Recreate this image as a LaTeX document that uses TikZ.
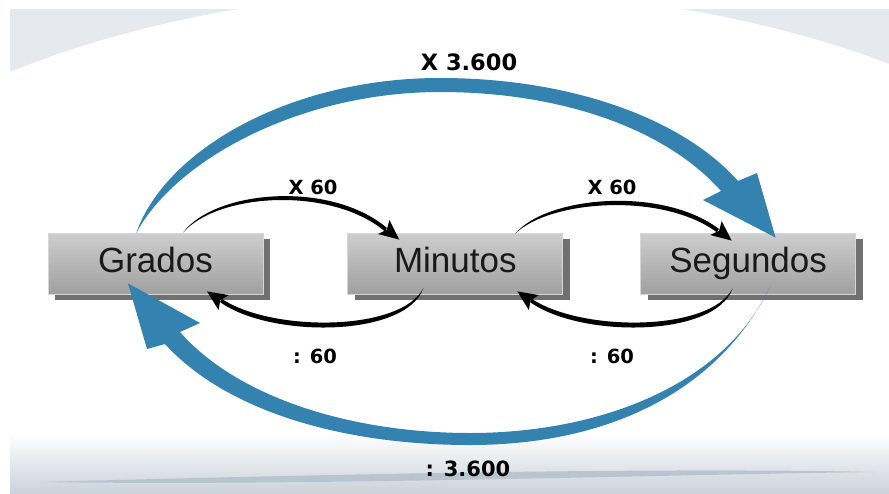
\documentclass[tikz,border=0pt]{standalone}
\usepackage{fontspec}
\setmainfont{Liberation Sans}
\newfontfamily\labelfam{DejaVu Sans}
\usetikzlibrary{positioning,shadows}

\definecolor{bggray}{RGB}{230,233,238}
\definecolor{bandgray}{RGB}{203,210,218}
\definecolor{streak}{RGB}{180,192,206}
\definecolor{boxtop}{RGB}{206,206,206}
\definecolor{boxbot}{RGB}{160,160,160}
\definecolor{boxline}{RGB}{214,214,214}
\definecolor{boxshadow}{RGB}{112,112,112}
\definecolor{arrowblue}{RGB}{52,130,176}

% stealth-like head for the small black arcs
\newcommand{\arcTip}[2]{\fill[black arrow,shift={(#1)},rotate=#2] (0,0) -- (-20,9) -- (-16,0) -- (-20,-9) -- cycle;}

\begin{document}
\begin{tikzpicture}[x=1pt,y=-1pt,
    unit/.style={rectangle,minimum width=215pt,minimum height=61pt,inner sep=0pt,
      top color=boxtop,bottom color=boxbot,draw=boxline,line width=0.8pt,
      text=black!90,font=\fontsize{35}{38}\selectfont,text height=25pt,text depth=8pt,
      drop shadow={shadow xshift=7pt,shadow yshift=-6pt,fill=boxshadow,opacity=1}},
    factor/.style={font=\labelfam\bfseries\fontsize{19.5}{21}\selectfont},
    bigfactor/.style={font=\labelfam\bfseries\fontsize{22.5}{24}\selectfont},
    blue arrow/.style={fill=arrowblue},
    black arrow/.style={fill=black}]
  \useasboundingbox (0,0) rectangle (889,493);

  % background
  \begin{scope}
    \clip (10,9) rectangle (889,493);
    \fill[bggray] (10,9) rectangle (889,140);
    \fill[white] (460,400) ellipse [x radius=753, y radius=409];
    \shade[top color=white,bottom color=bandgray] (10,433) rectangle (889,493);
    \fill[streak,opacity=0.85] (40,482) .. controls (300,475) and (650,467) .. (875,472)
      .. controls (650,475) and (300,486) .. (40,482) -- cycle;
  \end{scope}

  % units
  \node[unit] (grados) at (155.5,263.5) {Grados};
  \node[unit,right=84pt of grados] (minutos) {Minutos};
  \node[unit,right=77pt of minutos] (segundos) {Segundos};

  \coordinate (g-top)   at ([xshift=-19.5pt,yshift=-1pt]grados.north);
  \coordinate (g-right) at ([xshift=27.5pt]grados.north);
  \coordinate (g-bot)   at ([xshift=-27.5pt,yshift=11pt]grados.south);
  \coordinate (g-low)   at ([xshift=51.5pt,yshift=3pt]grados.south);
  \coordinate (m-left)  at ([xshift=-56pt,yshift=-7pt]minutos.north);
  \coordinate (m-right) at ([xshift=60pt,yshift=-1pt]minutos.north);
  \coordinate (m-low)   at ([xshift=-32pt,yshift=6pt]minutos.south);
  \coordinate (m-end)   at ([xshift=62pt,yshift=3pt]minutos.south);
  \coordinate (s-left)  at ([xshift=-16.5pt,yshift=-8pt]segundos.north);
  \coordinate (s-top)   at ([xshift=27.5pt,yshift=-5pt]segundos.north);
  \coordinate (s-low)   at ([xshift=-15.5pt,yshift=6pt]segundos.south);
  \coordinate (s-bot)   at ([xshift=22.5pt,yshift=9pt]segundos.south);

  % x 60 / : 60
  \fill[black arrow] (g-right) .. controls (215,190) and (330,180) .. (387,228)
    -- (384.5,231) .. controls (330,186) and (218,193) .. (g-right) -- cycle;
  \arcTip{m-left}{-39}
  \fill[black arrow] (m-right) .. controls (547,196) and (662,186) .. (719,229)
    -- (716.5,232) .. controls (662,192) and (550,200) .. (m-right) -- cycle;
  \arcTip{s-left}{-39}
  \fill[black arrow] (m-low) .. controls (405,338) and (270,338) .. (220,302)
    -- (222,299) .. controls (272,332) and (400,332) .. (m-low) -- cycle;
  \arcTip{g-low}{146}
  \fill[black arrow] (s-low) .. controls (715,338) and (580,338) .. (530,302)
    -- (532,299) .. controls (582,332) and (710,332) .. (s-low) -- cycle;
  \arcTip{m-end}{146}

  % x 3.600 / : 3.600
  \fill[blue arrow] (g-top) .. controls (165,150) and (290,78) .. (440,78)
    .. controls (570,78) and (682,118) .. (738,181) -- (757,173) -- (s-top)
    -- (703,200) -- (721,191) .. controls (665,128) and (560,92) .. (440,92)
    .. controls (300,92) and (175,160) .. (g-top) -- cycle;
  \fill[blue arrow] (s-bot) .. controls (725,385) and (600,433) .. (470,433)
    .. controls (350,433) and (237,397) .. (180,332) -- (200,323) -- (g-bot)
    -- (147,349) -- (165,344) .. controls (225,410) and (340,445) .. (470,445)
    .. controls (610,445) and (720,390) .. (s-bot) -- cycle;

  % factors
  \node[bigfactor] (t3600) at (469,62) {X 3.600};
  \node[factor] (t60a) at (313,187) {X 60};
  \node[factor] (t60b) at (612,187) {X 60};
  \node[factor] (d60a) at (315,356) {: 60};
  \node[factor] (d60b) at (612,356) {: 60};
  \node[factor,font=\labelfam\bfseries\fontsize{21}{23}\selectfont] (d3600) at (468,469) {: 3.600};
\end{tikzpicture}
\end{document}
